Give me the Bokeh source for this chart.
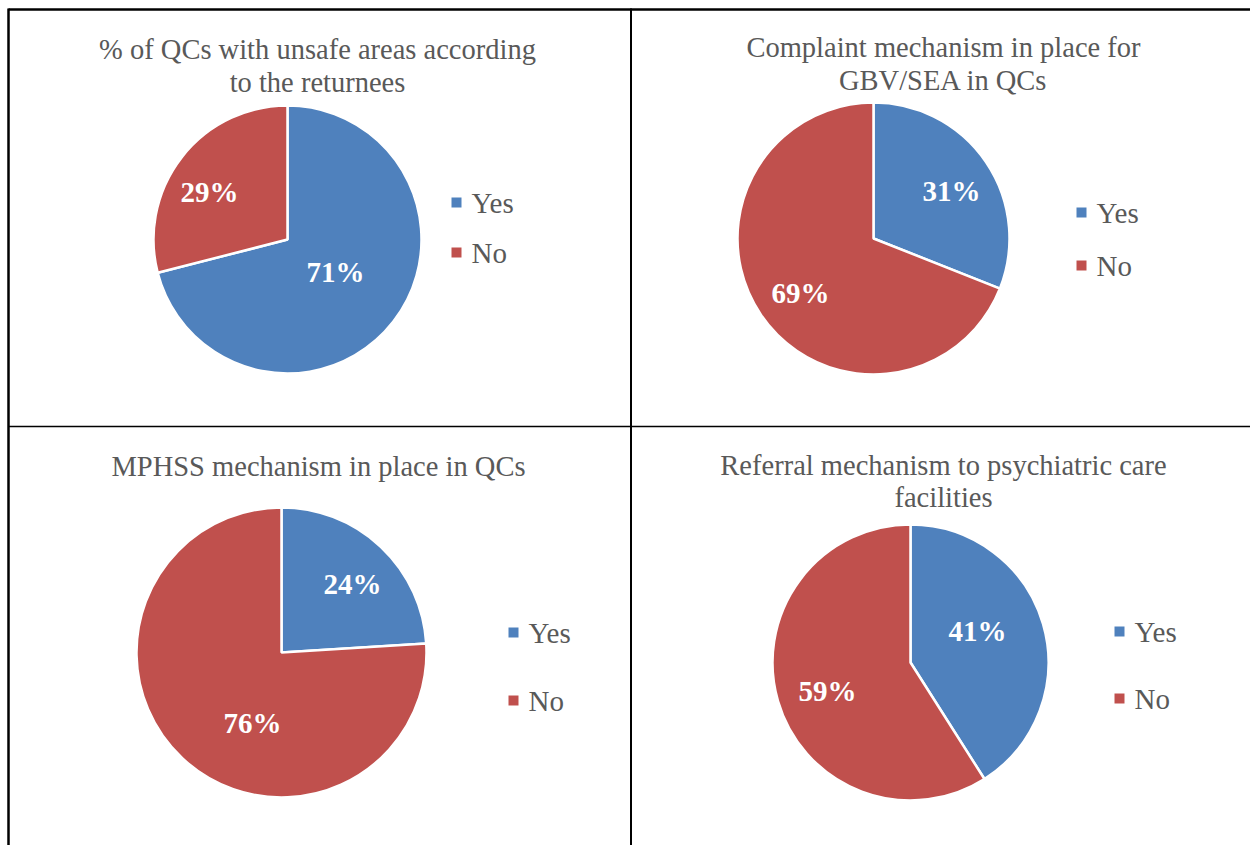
import math
from bokeh.plotting import figure
from bokeh.models import Range1d, ColumnDataSource
from bokeh.core.properties import value
from bokeh.embed import file_html
from bokeh.resources import INLINE

# ---- data ----
titles = [
    ["% of QCs with unsafe areas according", "to the returnees"],
    ["Complaint mechanism in place for", "GBV/SEA in QCs"],
    ["MPHSS mechanism in place in QCs"],
    ["Referral mechanism to psychiatric care", "facilities"],
]
categories = ["Yes", "No"]
yes_pct = [71, 31, 24, 41]
no_pct = [29, 69, 76, 59]

# ---- layout (page pixels, y measured from the top) ----
W, H = 1250, 845
colors = ["#4F81BD", "#C0504D"]
text_gray = "#595959"
serif = value("Liberation Serif")

layout = [
    dict(tx=317, ty=[49, 82], cx=287, cy=239, r=134, lx=456, ly=[202, 252],
         lab=[(335, 271), (209, 191)]),
    dict(tx=943, ty=[47, 80], cx=873, cy=238, r=136, lx=1081, ly=[212, 265],
         lab=[(951, 190), (800, 292)]),
    dict(tx=318, ty=[466], cx=281, cy=652, r=145, lx=513, ly=[632, 700],
         lab=[(352, 583), (252, 722)]),
    dict(tx=943, ty=[465, 497], cx=910, cy=662, r=138, lx=1119, ly=[631, 698],
         lab=[(977, 630), (827, 690)]),
]


def fy(y):
    return H - y


p = figure(width=W, height=H, output_backend="svg", toolbar_location=None,
           x_range=Range1d(0, W), y_range=Range1d(0, H), min_border=0)
p.axis.visible = False
p.grid.visible = False
p.outline_line_color = None
p.background_fill_color = "white"
p.border_fill_color = "white"

# table borders
p.segment(x0=[8, 8, 630.5, 8], y0=[fy(9), fy(8), fy(8), fy(426)],
          x1=[W, 8, 630.5, W], y1=[fy(9), fy(H), fy(H), fy(426)],
          line_color="black", line_width=[2.5, 2.5, 2, 1.3])

for i, lay in enumerate(layout):
    vals = [yes_pct[i], no_pct[i]]
    total = sum(vals)
    # slices run clockwise from 12 o'clock
    starts, ends = [], []
    acc = 0.0
    for v in vals:
        a0 = math.pi / 2 - 2 * math.pi * acc / total
        acc += v
        a1 = math.pi / 2 - 2 * math.pi * acc / total
        starts.append(a1)
        ends.append(a0)
    src = ColumnDataSource(dict(start=starts, end=ends, color=colors,
                                cat=categories))
    p.wedge(x=lay["cx"], y=fy(lay["cy"]), radius=lay["r"],
            start_angle="start", end_angle="end", direction="anticlock",
            fill_color="color", line_color="white", line_width=2.5,
            source=src)

    # percentage labels
    p.text(x=[xy[0] for xy in lay["lab"]], y=[fy(xy[1]) for xy in lay["lab"]],
           text=[f"{v}%" for v in vals], text_color="white",
           text_font=serif, text_font_style="bold", text_font_size="29px",
           text_align="center", text_baseline="middle")

    # title
    p.text(x=[lay["tx"]] * len(titles[i]), y=[fy(t) for t in lay["ty"]],
           text=titles[i], text_color=text_gray, text_font=serif,
           text_font_size="28.5px", text_align="center", text_baseline="middle")

    # legend
    p.rect(x=[lay["lx"]] * 2, y=[fy(t) for t in lay["ly"]], width=10, height=10,
           fill_color=colors, line_color=None)
    p.text(x=[lay["lx"] + 15] * 2, y=[fy(t) for t in lay["ly"]],
           text=categories, text_color=text_gray, text_font=serif,
           text_font_size="29px", text_align="left", text_baseline="middle")

open("out.html", "w").write(file_html(p, INLINE))
